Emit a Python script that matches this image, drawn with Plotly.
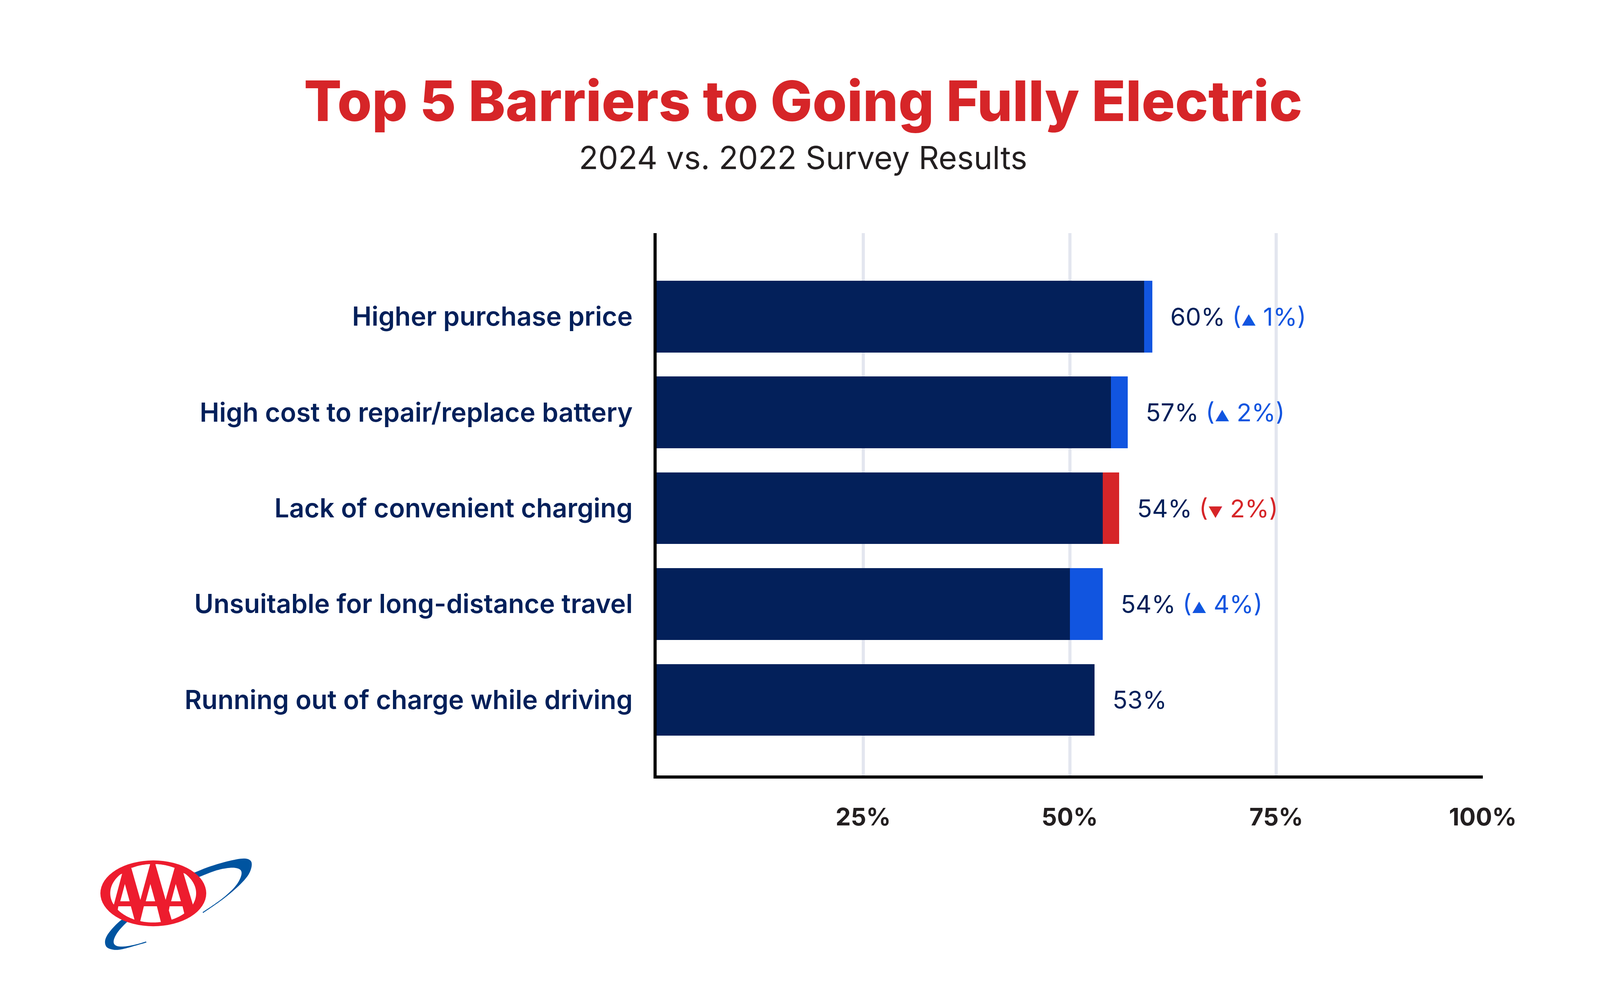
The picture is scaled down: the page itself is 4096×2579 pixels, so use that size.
import math
import plotly.graph_objects as go

# ---------------- data ----------------
categories = [
    "Higher purchase price",
    "High cost to repair/replace battery",
    "Lack of convenient charging",
    "Unsuitable for long-distance travel",
    "Running out of charge while driving",
]
pct_2024 = [60, 57, 54, 54, 53]
pct_2022 = [59, 55, 56, 50, None]
tick_values = [25, 50, 75, 100]
tick_labels = ["25%", "50%", "75%", "100%"]

title_text = "Top 5 Barriers to Going Fully Electric"
subtitle_text = "2024 vs. 2022 Survey Results"

# ---------------- style ----------------
NAVY = "#03205a"
BLUE = "#1155e0"
RED = "#d62528"
GRID = "#e3e6ef"
INK = "#231f20"
TITLE_RED = "#d62528"
LOGO_RED = "#ed1c2e"
LOGO_BLUE = "#0054a0"
FONT = "Inter, 'Noto Sans', sans-serif"

S = 0.96
W, H = 4096, 2579
ML, MR, MT, MB = 1673, 308, 589, 601
PW = W - ML - MR
PH = H - MT - MB


def px(x):
    """reference (full-size) x pixel -> paper x"""
    return (x * S - ML) / PW


def py(y):
    """reference (full-size) y pixel -> paper y"""
    return ((H - MB) - y * S) / PH


# ---------------- derived ----------------
ypos = list(range(len(categories)))
base = [a if b is None else min(a, b) for a, b in zip(pct_2024, pct_2022)]
delta = [0 if b is None else abs(a - b) for a, b in zip(pct_2024, pct_2022)]
delta_col = [BLUE if (b is None or a >= b) else RED for a, b in zip(pct_2024, pct_2022)]
ends = [a if b is None else max(a, b) for a, b in zip(pct_2024, pct_2022)]

fig = go.Figure()
fig.add_trace(go.Bar(y=ypos, x=base, orientation="h", width=0.748,
                     marker=dict(color=NAVY, line=dict(width=0)), hoverinfo="skip"))
fig.add_trace(go.Bar(y=ypos, x=delta, orientation="h", width=0.748,
                     marker=dict(color=delta_col, line=dict(width=0)), hoverinfo="skip"))


def label_text(a, b):
    main = f"{a}%"
    if b is None:
        return main
    d = a - b
    col = BLUE if d > 0 else RED
    tri = "▲" if d > 0 else "▼"
    return (main + f" <span style='color:{col}'>(</span>"
            f"<span style='color:{col};font-size:38px'>{tri}</span>"
            f"<span style='color:{col}'> {abs(d)}%)</span>")


annotations = []
for i, (a, b) in enumerate(zip(pct_2024, pct_2022)):
    annotations.append(dict(
        x=ends[i], y=ypos[i], xref="x", yref="y", xanchor="left", yanchor="middle",
        xshift=44, showarrow=False, text=label_text(a, b),
        font=dict(family=FONT, size=63, color=NAVY, weight=400)))

annotations.append(dict(
    x=px(2133.5), y=py(260), xref="paper", yref="paper", xanchor="center", yanchor="middle",
    showarrow=False, text=title_text,
    font=dict(family=FONT, size=143, color=TITLE_RED, weight=800)))
annotations.append(dict(
    x=px(2133.5), y=py(412), xref="paper", yref="paper", xanchor="center", yanchor="middle",
    showarrow=False, text=subtitle_text,
    font=dict(family=FONT, size=81, color=INK, weight=400)))

# ---------------- AAA logo (decoration) ----------------
def z2p(pt):
    zx, zy = pt
    return px(220 + zx / 3.0), py(2160 + zy / 3.0)


def fmt(pt):
    x, y = z2p(pt)
    return f"{x:.5f},{y:.5f}"


ICX, ICY, IRX, IRY = 540.5, 644.0, 343.5, 234.0


def arc(p1, p2, n=24):
    t1 = math.atan2((p1[1] - ICY) / IRY, (p1[0] - ICX) / IRX)
    t2 = math.atan2((p2[1] - ICY) / IRY, (p2[0] - ICX) / IRX)
    d = t2 - t1
    while d > math.pi:
        d -= 2 * math.pi
    while d < -math.pi:
        d += 2 * math.pi
    return [(ICX + IRX * math.cos(t1 + d * k / n), ICY + IRY * math.sin(t1 + d * k / n))
            for k in range(1, n)]


def poly_path(pts):
    return "M " + " L ".join(fmt(p) for p in pts) + " Z"


def cr_segments(pts):
    out = []
    for i in range(len(pts) - 1):
        p0 = pts[i - 1] if i > 0 else pts[i]
        p1 = pts[i]
        p2 = pts[i + 1]
        p3 = pts[i + 2] if i + 2 < len(pts) else pts[i + 1]
        c1 = (p1[0] + (p2[0] - p0[0]) / 6, p1[1] + (p2[1] - p0[1]) / 6)
        c2 = (p2[0] - (p3[0] - p1[0]) / 6, p2[1] - (p3[1] - p1[1]) / 6)
        out.append(f"C {fmt(c1)} {fmt(c2)} {fmt(p2)}")
    return " ".join(out)


def crescent(edge_a, edge_b):
    return ("M " + fmt(edge_a[0]) + " " + cr_segments(edge_a) +
            " L " + fmt(edge_b[0]) + " " + cr_segments(edge_b) + " Z")


shapes = []
outer1 = [(487, 1038), (400, 1063), (300, 1090), (230, 1097), (172, 1078), (155, 1035),
          (170, 985), (215, 925), (270, 870), (320, 835)]
inner1 = [(360, 850), (300, 905), (250, 965), (225, 1020), (232, 1055), (270, 1070),
          (330, 1068), (405, 1053), (483, 1030)]
outer2 = [(830, 492), (870, 478), (1000, 428), (1150, 385), (1262, 366), (1318, 382),
          (1328, 428), (1300, 500), (1225, 585), (1100, 690), (940, 802)]
inner2 = [(936, 796), (1085, 693), (1190, 597), (1238, 522), (1246, 470), (1215, 445),
          (1150, 441), (1050, 460), (930, 505), (860, 535)]
for a, b in [(outer1, inner1), (outer2, inner2)]:
    shapes.append(dict(type="path", xref="paper", yref="paper", path=crescent(a, b),
                       fillcolor=LOGO_BLUE, line=dict(width=0), layer="above"))

ex0, ey1 = z2p((118, 381))
ex1, ey0 = z2p((965, 908))
shapes.append(dict(type="circle", xref="paper", yref="paper", x0=ex0, x1=ex1, y0=ey0, y1=ey1,
                   fillcolor=LOGO_RED, line=dict(width=0), layer="above"))

white_regions = [
    [(292, 487), (226, 735)] + arc((226, 735), (292, 487)),
    [(365, 440), (438, 697), (516, 412)] + arc((516, 412), (365, 440)),
    [(558, 412), (640, 697), (712, 440)] + arc((712, 440), (558, 412)),
    [(782, 482), (858, 735)] + arc((858, 735), (782, 482)),
    [(314, 570), (352, 708), (277, 708)],
    [(518, 570), (556, 708), (481, 708)],
    [(721, 570), (762, 708), (684, 708)],
    [(262, 748), (362, 748), (391, 855)] + arc((391, 855), (257, 775)) + [(257, 775)],
    [(466, 748), (570, 748), (602, 875)] + arc((602, 875), (437, 866)) + [(437, 866)],
    [(672, 748), (775, 748), (789, 805)] + arc((789, 805), (688, 855)) + [(688, 855), (666, 782)],
]
for reg in white_regions:
    shapes.append(dict(type="path", xref="paper", yref="paper", path=poly_path(reg),
                       fillcolor="white", line=dict(width=0), layer="above"))

# ---------------- layout ----------------
fig.update_layout(
    width=W, height=H,
    margin=dict(l=ML, r=MR, t=MT, b=MB, pad=0),
    barmode="stack",
    showlegend=False,
    paper_bgcolor="white",
    plot_bgcolor="white",
    annotations=annotations,
    shapes=shapes,
    xaxis=dict(
        range=[0, 100], tickmode="array", tickvals=tick_values, ticktext=tick_labels,
        showgrid=True, gridcolor=GRID, gridwidth=7.5, zeroline=False,
        showline=True, linecolor="black", linewidth=7.7,
        ticks="", ticklabelstandoff=46,
        tickfont=dict(family=FONT, size=62, color=INK, weight=700),
        fixedrange=True,
    ),
    yaxis=dict(
        range=[4.789, -0.871], tickmode="array", tickvals=ypos, ticktext=categories,
        showgrid=False, zeroline=False,
        showline=True, linecolor="black", linewidth=7.7,
        ticks="", ticklabelstandoff=40,
        tickfont=dict(family=FONT, size=67, color=NAVY, weight=600),
        fixedrange=True,
    ),
)

fig.write_html("out.html")
